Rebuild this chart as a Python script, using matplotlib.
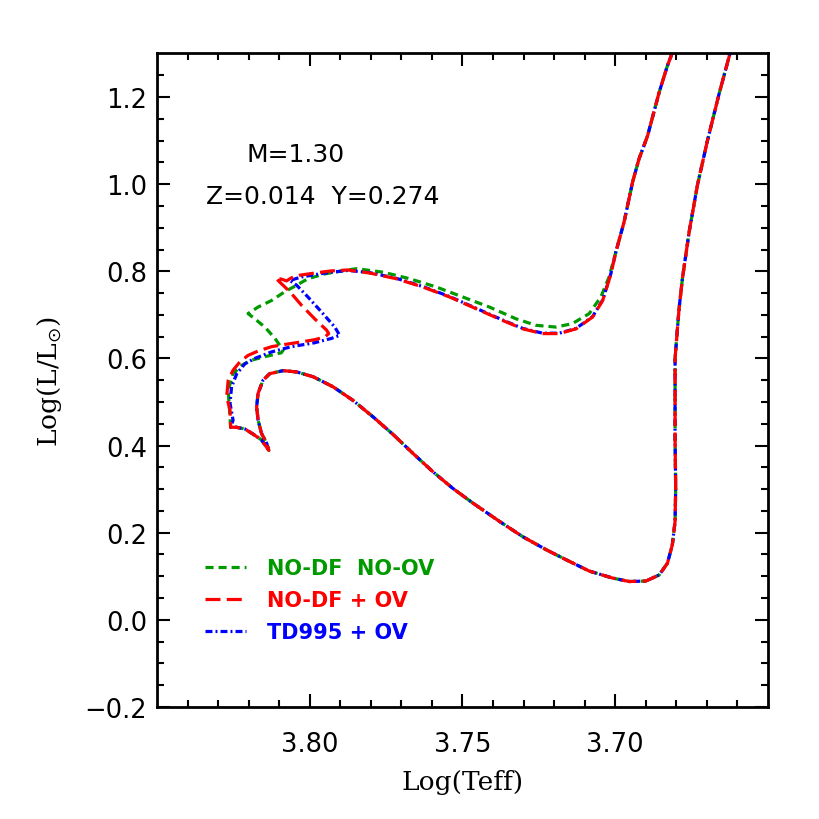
import numpy as np
import matplotlib.pyplot as plt

plt.rcParams['lines.scale_dashes'] = False

# pre-main-sequence track (Hayashi + Henyey + approach to ZAMS), common to all models
pms_logt = [3.6598, 3.6625, 3.6660, 3.6698, 3.6731, 3.6758, 3.6780, 3.6791, 3.6798,
            3.6804, 3.6804, 3.6802, 3.6804, 3.6813, 3.6829, 3.6856, 3.6900, 3.6954,
            3.7009, 3.7085, 3.7161, 3.7226, 3.7303, 3.7379, 3.7466, 3.7532, 3.7597,
            3.7662, 3.7728, 3.7793, 3.7859, 3.7924, 3.7989, 3.8043, 3.8087, 3.8131,
            3.8153, 3.8169, 3.8174, 3.8169, 3.8158, 3.8141, 3.8134,
            3.8158, 3.8185, 3.8212, 3.8240, 3.8259]
pms_logl = [1.340, 1.298, 1.207, 1.100, 0.997, 0.890, 0.783, 0.714, 0.653,
            0.600, 0.416, 0.302, 0.226, 0.172, 0.130, 0.103, 0.089, 0.088,
            0.096, 0.112, 0.138, 0.161, 0.191, 0.226, 0.268, 0.302, 0.340,
            0.382, 0.426, 0.466, 0.504, 0.535, 0.558, 0.569, 0.572, 0.565,
            0.550, 0.520, 0.489, 0.458, 0.428, 0.405, 0.389,
            0.413, 0.426, 0.438, 0.442, 0.442]

# red giant branch, common to all models
rgb_logt = [3.6998, 3.6971, 3.6943, 3.6922, 3.6894, 3.6856, 3.6829, 3.6815, 3.6800]
rgb_logl = [0.844, 0.913, 1.005, 1.058, 1.111, 1.211, 1.272, 1.298, 1.330]

# NO-DF NO-OV
nodf_noov_logt = [3.8263, 3.8267, 3.8251, 3.8223, 3.8191, 3.8147, 3.8093, 3.8087,
                  3.8114, 3.8147, 3.8180, 3.8202, 3.8169, 3.8125, 3.8082, 3.8043,
                  3.8006, 3.7951, 3.7886, 3.7847, 3.7760, 3.7673, 3.7586, 3.7499,
                  3.7412, 3.7325, 3.7259, 3.7194, 3.7140, 3.7085, 3.7047, 3.7020]
nodf_noov_logl = [0.485, 0.527, 0.565, 0.584, 0.596, 0.604, 0.613, 0.619,
                  0.646, 0.672, 0.691, 0.703, 0.718, 0.733, 0.753, 0.768,
                  0.783, 0.794, 0.802, 0.806, 0.798, 0.783, 0.764, 0.741,
                  0.718, 0.691, 0.676, 0.672, 0.680, 0.703, 0.741, 0.787]

# NO-DF + OV
nodf_ov_logt = [3.8261, 3.8272, 3.8267, 3.8251, 3.8229, 3.8202, 3.8169, 3.8125,
                3.8082, 3.8027, 3.7984, 3.7951, 3.7938, 3.7945, 3.7984, 3.8027,
                3.8065, 3.8098, 3.8112, 3.8093, 3.8076, 3.8060, 3.8033, 3.7984,
                3.7929, 3.7875, 3.7804, 3.7717, 3.7630, 3.7542, 3.7455, 3.7368,
                3.7303, 3.7238, 3.7183, 3.7128, 3.7074, 3.7041, 3.7014]
nodf_ov_logl = [0.481, 0.512, 0.550, 0.573, 0.592, 0.607, 0.617, 0.627,
                0.632, 0.638, 0.643, 0.649, 0.657, 0.665, 0.691, 0.722,
                0.753, 0.775, 0.785, 0.782, 0.778, 0.785, 0.791, 0.796,
                0.801, 0.803, 0.796, 0.783, 0.764, 0.741, 0.714, 0.687,
                0.668, 0.657, 0.657, 0.668, 0.695, 0.733, 0.794]

# TD995 + OV
td995_ov_logt = [3.8251, 3.8261, 3.8256, 3.8239, 3.8212, 3.8180, 3.8125, 3.8060,
                 3.7984, 3.7929, 3.7902, 3.7918, 3.7962, 3.8006, 3.8043, 3.8065,
                 3.8027, 3.7951, 3.7875, 3.7804, 3.7717, 3.7630, 3.7542, 3.7455,
                 3.7368, 3.7303, 3.7238, 3.7183, 3.7128, 3.7074, 3.7041, 3.7014]
td995_ov_logl = [0.458, 0.497, 0.535, 0.565, 0.588, 0.600, 0.615, 0.627,
                 0.636, 0.646, 0.653, 0.672, 0.707, 0.741, 0.768, 0.779,
                 0.787, 0.796, 0.802, 0.797, 0.784, 0.765, 0.742, 0.715,
                 0.688, 0.669, 0.658, 0.658, 0.669, 0.696, 0.734, 0.795]

labels = ['NO-DF  NO-OV', 'NO-DF + OV', 'TD995 + OV']
colors = ['#009a00', '#ff0000', '#0000ff']
dashes = [(5.8, 3.6), (10.8, 4.5), (5.0, 2.2, 1.4, 2.2)]
tracks = [(nodf_noov_logt, nodf_noov_logl),
          (nodf_ov_logt, nodf_ov_logl),
          (td995_ov_logt, td995_ov_logl)]

fig = plt.figure(figsize=(8.2, 8.2), dpi=100)
ax = fig.add_axes([0.1915, 0.1366, 0.745, 0.797])

lines = {}
for i in [0, 2, 1]:
    t = np.concatenate([pms_logt, tracks[i][0], rgb_logt])
    l = np.concatenate([pms_logl, tracks[i][1], rgb_logl])
    ln, = ax.plot(t, l, color=colors[i], lw=2.3, dashes=dashes[i], label=labels[i])
    lines[i] = ln

ax.set_xlim(3.85, 3.65)
ax.set_ylim(-0.2, 1.3)
ax.set_xticks([3.80, 3.75, 3.70])
ax.set_xticklabels(['3.80', '3.75', '3.70'])
ax.set_xticks(np.arange(3.66, 3.845, 0.01), minor=True)
ax.set_yticks(np.arange(-0.2, 1.21, 0.2))
ax.set_yticklabels(['\u22120.2', '0.0', '0.2', '0.4', '0.6', '0.8', '1.0', '1.2'])
ax.set_yticks(np.arange(-0.2, 1.3, 0.05), minor=True)

ax.tick_params(which='both', direction='in', top=True, right=True, labelsize=18.5)
ax.tick_params(which='major', length=9.5, width=1.5)
ax.tick_params(which='minor', length=4.7, width=1.5)
ax.tick_params(axis='x', which='major', pad=17)
ax.tick_params(axis='y', which='major', pad=7)
for s in ax.spines.values():
    s.set_linewidth(2.0)

ax.set_xlabel('Log(Teff)', family='DejaVu Serif', fontsize=19)
ax.set_ylabel(r'Log(L/L$_{\odot}$)', family='DejaVu Serif', fontsize=19)
ax.xaxis.set_label_coords(0.5, -0.095)
ax.yaxis.set_label_coords(-0.152, 0.5)

ax.text(0.226, 0.846, 'M=1.30', transform=ax.transAxes, fontsize=18,
        ha='center', va='center')
ax.text(0.272, 0.782, 'Z=0.014  Y=0.274', transform=ax.transAxes, fontsize=18,
        ha='center', va='center')

leg = ax.legend(handles=[lines[0], lines[1], lines[2]], loc='upper left',
                bbox_to_anchor=(0.0786, 0.2275), frameon=False, borderpad=0,
                borderaxespad=0, handlelength=1.95, handletextpad=1.0,
                labelspacing=0.57, prop={'weight': 'bold', 'size': 15})
for txt, c in zip(leg.get_texts(), colors):
    txt.set_color(c)

fig.savefig('out.png', dpi=100)
